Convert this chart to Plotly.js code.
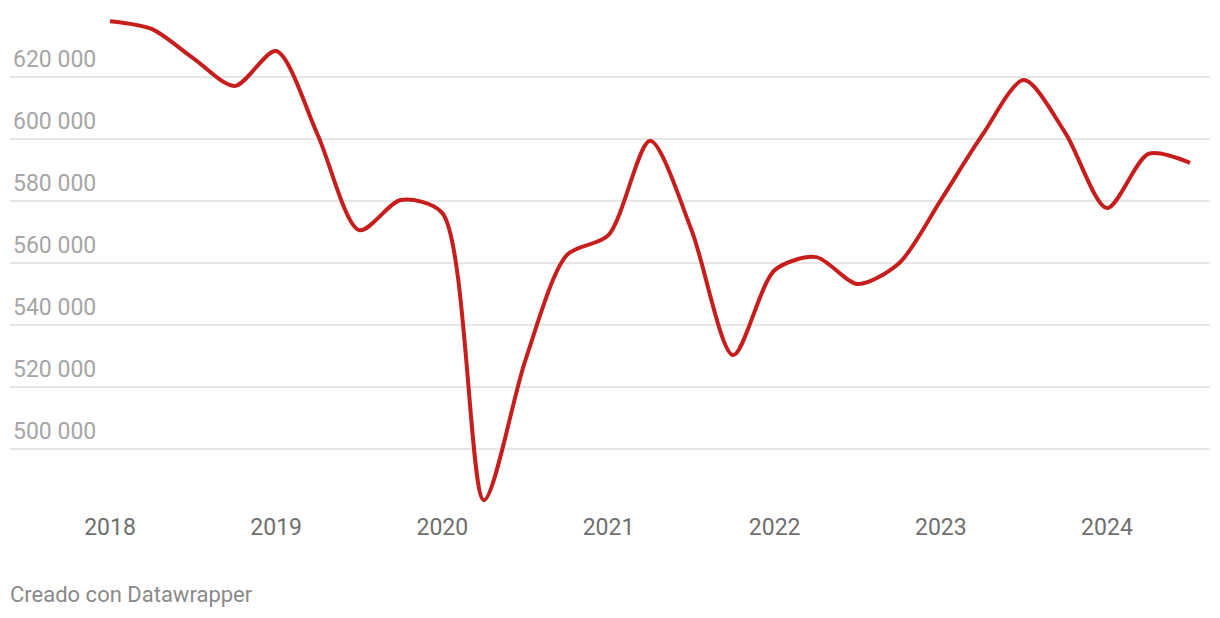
<!DOCTYPE html>
<html>
<head>
<meta charset="utf-8">
<script src="https://cdn.plot.ly/plotly-3.0.1.min.js"></script>
<style>
html,body{margin:0;padding:0;background:#fff;}
#chart{width:1220px;height:618px;}
</style>
</head>
<body>
<div id="chart"></div>
<script>
// Quarterly periods (decimal year) and values
const periods = [2018.0,2018.25,2018.5,2018.75,2019.0,2019.25,2019.5,2019.75,
  2020.0,2020.25,2020.5,2020.75,2021.0,2021.25,2021.5,2021.75,
  2022.0,2022.25,2022.5,2022.75,2023.0,2023.25,2023.5,2023.75,
  2024.0,2024.25,2024.5];
const values = [638000,635500,626100,617100,628400,601300,570600,580300,
  576100,483500,528700,562600,569000,599400,570600,530300,
  557700,561900,553200,560000,580300,601300,619000,601900,
  577700,595200,592300];
const yearTicks = [2018,2019,2020,2021,2022,2023,2024];
const yearLabels = ["2018","2019","2020","2021","2022","2023","2024"];
const yTicks = [500000,520000,540000,560000,580000,600000,620000];
const footer = "Creado con Datawrapper";

const trace = {
  x: periods, y: values, type: 'scatter', mode: 'lines',
  line: {color: '#c71e1d', width: 4, shape: 'spline', smoothing: 0.8},
  hoverinfo: 'skip'
};

const layout = {
  width: 1220, height: 618,
  margin: {l: 10, r: 10, t: 10, b: 108},
  paper_bgcolor: '#fff', plot_bgcolor: '#fff',
  separators: ', ',
  font: {family: 'Roboto, sans-serif'},
  showlegend: false,
  xaxis: {
    range: [2017.398, 2024.62],
    tickvals: yearTicks, ticktext: yearLabels,
    showgrid: false, zeroline: false, showline: false,
    ticks: '', ticklabelstandoff: 1,
    tickfont: {size: 23, color: '#6f6f6f'}
  },
  yaxis: {
    range: [480323, 641613],
    tickvals: yTicks, tickformat: ',d',
    showgrid: true, gridcolor: '#e6e6e6', gridwidth: 2,
    zeroline: false, showline: false, ticks: '',
    ticklabelposition: 'inside', ticklabelstandoff: 0, ticklabelshift: -18,
    tickfont: {size: 23, color: '#a6a6a6'}
  },
  annotations: [{
    text: footer, xref: 'paper', yref: 'paper', x: 0, y: 0,
    xanchor: 'left', yanchor: 'middle', xshift: -2, yshift: -84,
    showarrow: false, font: {size: 22, color: '#8a8a8a'}
  }]
};

Plotly.newPlot('chart', [trace], layout, {displayModeBar: false, staticPlot: true});
</script>
</body>
</html>
